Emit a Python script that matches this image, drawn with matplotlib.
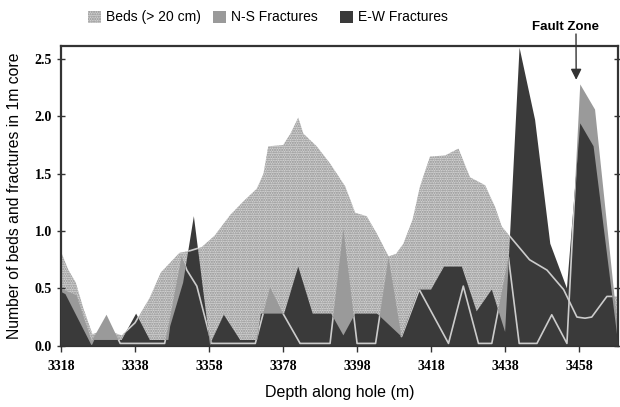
import matplotlib
matplotlib.use("Agg")
import matplotlib.pyplot as plt
from matplotlib.patches import Rectangle

# ---------------- data ----------------
depth_beds = [3318, 3320, 3322, 3324, 3326.5, 3330, 3334.4, 3338, 3342, 3345,
              3350, 3353, 3356, 3359.5, 3363.7, 3367.3, 3370.9, 3372.7, 3374, 3378,
              3380, 3382.1, 3383.5, 3387.1, 3390.7, 3394.8, 3397.5, 3400.6, 3403.3, 3406.5,
              3408.5, 3410.5, 3413, 3415, 3417.7, 3421.8, 3425.4, 3428.5, 3432.6, 3435.3,
              3437.1, 3439.4, 3444.6, 3449.3, 3453.8, 3457.4, 3459.6, 3461.4, 3465.5, 3468.5]
beds = [0.82, 0.66, 0.55, 0.33, 0.10, 0.14, 0.09, 0.20, 0.42, 0.64,
        0.81, 0.83, 0.86, 0.96, 1.14, 1.26, 1.37, 1.50, 1.74, 1.75,
        1.85, 1.99, 1.85, 1.74, 1.59, 1.39, 1.16, 1.13, 0.98, 0.78,
        0.80, 0.89, 1.10, 1.39, 1.65, 1.66, 1.72, 1.47, 1.40, 1.21,
        1.04, 0.95, 0.75, 0.66, 0.49, 0.25, 0.24, 0.25, 0.43, 0.43]

depth_ns = [3318, 3320, 3322.2, 3326.3, 3330.3, 3334, 3346, 3347.2, 3350.6, 3352,
            3354.7, 3358.7, 3370.5, 3374.5, 3378, 3382.6, 3390.7, 3394.3, 3398, 3403,
            3406.5, 3410, 3414.8, 3422.7, 3426.7, 3430.8, 3434.4, 3438.9, 3441.8, 3446.6,
            3450.6, 3454.7, 3458.3, 3462.3, 3468.5]
ns = [0.50, 0.47, 0.44, 0.04, 0.27, 0.02, 0.02, 0.20, 0.78, 0.66,
      0.52, 0.02, 0.02, 0.51, 0.28, 0.02, 0.02, 1.02, 0.02, 0.02,
      0.77, 0.08, 0.49, 0.02, 0.52, 0.02, 0.02, 0.77, 0.02, 0.02,
      0.27, 0.02, 2.28, 2.06, 0.14]

depth_ew = [3318, 3319.2, 3326.3, 3327, 3334.4, 3338.3, 3342, 3347, 3347.5, 3351,
            3353.9, 3358.3, 3358.8, 3362, 3366.4, 3371, 3372, 3378.3, 3382.1, 3386,
            3391, 3394.3, 3397.5, 3403.4, 3410, 3414.6, 3418, 3421.5, 3426.3, 3430.3,
            3434.4, 3438, 3441.9, 3446.1, 3450.2, 3454.7, 3458.3, 3461.9, 3468.5]
ew = [0.47, 0.45, 0.00, 0.05, 0.05, 0.28, 0.05, 0.05, 0.17, 0.55,
      1.13, 0.00, 0.05, 0.27, 0.05, 0.05, 0.28, 0.28, 0.69, 0.28,
      0.28, 0.09, 0.28, 0.28, 0.08, 0.49, 0.49, 0.69, 0.69, 0.30,
      0.49, 0.12, 2.60, 1.97, 0.89, 0.50, 1.94, 1.74, 0.03]

xticks = [3318, 3338, 3358, 3378, 3398, 3418, 3438, 3458]
yticks = [0.0, 0.5, 1.0, 1.5, 2.0, 2.5]
legend_labels = ["Beds (> 20 cm)", "N-S Fractures", "E-W Fractures"]
fault_depth = 3457.2
fault_value = 2.32

# ---------------- style ----------------
W, H = 620, 407
plt.rcParams['hatch.linewidth'] = 1.0
c_beds_face = '#d2d2d2'
c_beds_hatch = '#8e8e8e'
c_ns = '#9a9a9a'
c_ew = '#3a3a3a'
c_line = '#cccccc'

fig = plt.figure(figsize=(W / 100, H / 100), dpi=100)
ax = fig.add_axes([61 / W, 1 - 345.7 / H, (618 - 61) / W, (345.7 - 46) / H])

ax.fill_between(depth_beds, beds, 0, facecolor=c_beds_face, edgecolor=c_beds_hatch,
                hatch='.......', linewidth=0, zorder=1)
ax.fill_between(depth_ns, ns, 0, facecolor=c_ns, linewidth=0, zorder=2)
ew_fill = ax.fill_between(depth_ew, ew, 0, facecolor=c_ew, linewidth=0, zorder=3)
l1, = ax.plot(depth_beds, beds, color=c_line, lw=1.2, zorder=4)
l2, = ax.plot(depth_ns, ns, color=c_line, lw=1.2, zorder=4)
ew_path = ew_fill.get_paths()[0]
for ln in (l1, l2):
    ln.set_clip_path(ew_path, ax.transData)

ax.set_xlim(3318, 3468.5)
ax.set_ylim(0, 2.615)
ax.set_xticks(xticks)
ax.set_yticks(yticks)
ax.set_xticklabels([str(t) for t in xticks], fontfamily='Liberation Serif',
                   fontweight='bold', fontsize=10)
ax.set_yticklabels([f"{t:.1f}" for t in yticks], fontfamily='Liberation Serif',
                   fontweight='bold', fontsize=10)
ax.tick_params(axis='x', direction='out', length=4, width=1, pad=6, color='#333')
ax.tick_params(axis='y', direction='inout', length=6, width=1, color='#333',
               right=True, labelright=False)
for s in ax.spines.values():
    s.set_linewidth(1.6)
    s.set_color('#333333')

ax.set_xlabel("Depth along hole (m)", fontfamily='Liberation Sans', fontsize=11.5,
              labelpad=9)
ax.set_ylabel("Number of beds and fractures in 1m core", fontfamily='Liberation Sans',
              fontsize=11.3, labelpad=9)

# ---------------- legend ----------------
def fx(px):
    return px / W

def fy(py):
    return 1 - py / H

patch_specs = [
    (88, dict(facecolor=c_beds_face, edgecolor=c_beds_hatch, hatch='.......', linewidth=0)),
    (213, dict(facecolor=c_ns, linewidth=0)),
    (340, dict(facecolor=c_ew, linewidth=0)),
]
for (px, kw), label in zip(patch_specs, legend_labels):
    fig.patches.append(Rectangle((fx(px), fy(23)), 13 / W, 12 / H,
                                 transform=fig.transFigure, figure=fig, **kw))
    fig.text(fx(px + 18), fy(17), label, fontfamily='Liberation Sans', fontsize=10,
             va='center', ha='left')

fig.text(fx(565), fy(27), "Fault Zone", fontfamily='Liberation Sans', fontsize=9.5,
         fontweight='bold', ha='center', va='center')
ax.annotate("", xy=(fault_depth, fault_value), xycoords='data',
            xytext=(fx(576), fy(34)), textcoords='figure fraction',
            arrowprops=dict(arrowstyle='-|>', color='#333333', lw=1,
                            mutation_scale=16, shrinkA=0, shrinkB=0),
            annotation_clip=False, zorder=6)

fig.savefig("out.png", dpi=100)
